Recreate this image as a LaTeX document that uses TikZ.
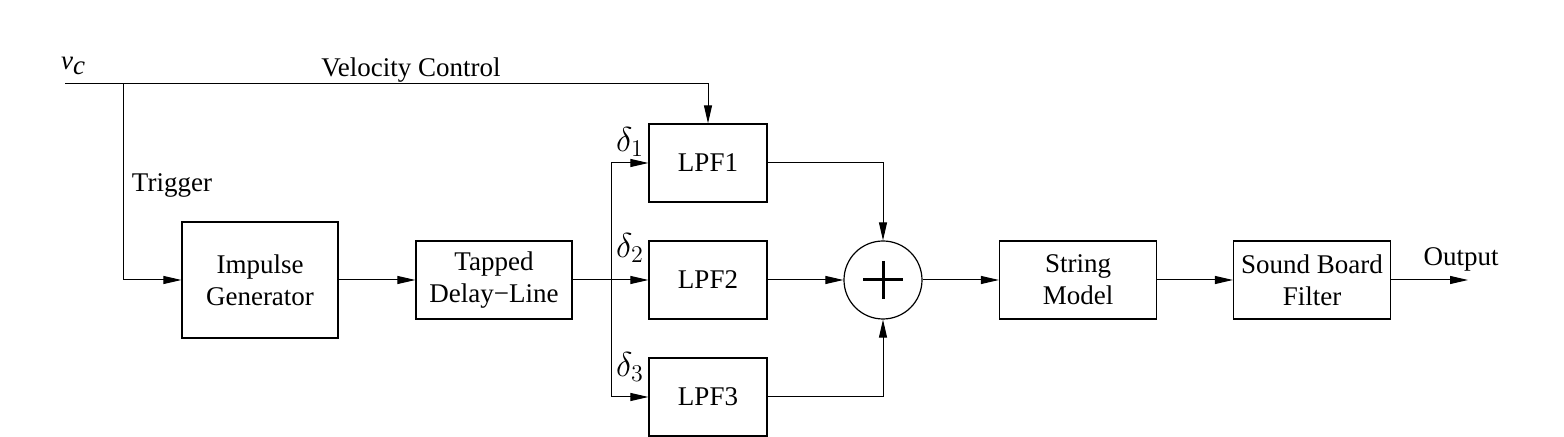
\documentclass[tikz,border=0pt]{standalone}
\usepackage{fontspec}
\setmainfont{Liberation Serif}
\usepackage{tikz}
\usetikzlibrary{arrows.meta,positioning,calc}

\begin{document}
\begin{tikzpicture}[x=0.5pt, y=-0.5pt,
    font=\fontsize{13.5}{16}\selectfont,
    blk/.style={draw, line width=0.6pt, align=center, minimum height=39pt, inner sep=0pt},
    wire/.style={line width=0.5pt, -{Triangle[length=9pt,width=4pt]}},
    lbl/.style={inner sep=0pt},
    tapl/.style={inner sep=0pt, font=\fontsize{18}{20}\selectfont}]
  \useasboundingbox (0,0) rectangle (1564,437);
  % inputs
  \node[lbl] (vc) at (73,66) {\textit{v}\raisebox{-0.45ex}{\textit{c}}};
  \node[lbl] (velo) at (411,70) {Velocity Control};
  \node[lbl] (trg) at (172,185) {Trigger};
  \coordinate (start) at (65,84);
  \coordinate (trig) at (123,84);
  % blocks
  \node[blk, minimum width=78pt, minimum height=58pt] (ig) at (260,280) {Impulse\\Generator};
  \node[blk, minimum width=78pt] (tdl) at (494,280) {Tapped\\Delay−Line};
  \coordinate (tap) at (611,280);
  \node[blk, minimum width=59pt] (lpf1) at (708,163) {LPF1};
  \node[blk, minimum width=59pt] (lpf2) at (708,280) {LPF2};
  \node[blk, minimum width=59pt] (lpf3) at (708,397) {LPF3};
  \node[tapl] (d1) at (630,142) {$\delta_1$};
  \node[tapl] (d2) at (630,248) {$\delta_2$};
  \node[tapl] (d3) at (630,367) {$\delta_3$};
  \node[draw, circle, line width=0.6pt, minimum size=39pt, inner sep=0pt] (sum) at (883,280) {};
  \draw[line width=1.5pt] ($(sum)+(-20,0)$) -- ($(sum)+(20,0)$)
                          ($(sum)+(0,-19)$) -- ($(sum)+(0,19)$);
  \node[blk, minimum width=78.5pt] (sm) at (1078,280) {String\\Model};
  \node[blk, minimum width=78.5pt] (sbf) at (1312,280) {Sound Board\\Filter};
  \coordinate (out) at (1468,280);
  \node[lbl] (outl) at (1461,259) {Output};
  % connections
  \draw[wire] (start) -| (lpf1.north);
  \draw[wire] (trig) |- (ig.west);
  \draw[wire] (ig) -- (tdl);
  \draw[wire] (tdl) -- (lpf2);
  \draw[wire] (tap) |- (lpf1.west);
  \draw[wire] (tap) |- (lpf3.west);
  \draw[wire] (lpf1) -| (sum);
  \draw[wire] (lpf2) -- (sum);
  \draw[wire] (lpf3) -| (sum);
  \draw[wire] (sum) -- (sm);
  \draw[wire] (sm) -- (sbf);
  \draw[wire] (sbf) -- (out);
\end{tikzpicture}
\end{document}
